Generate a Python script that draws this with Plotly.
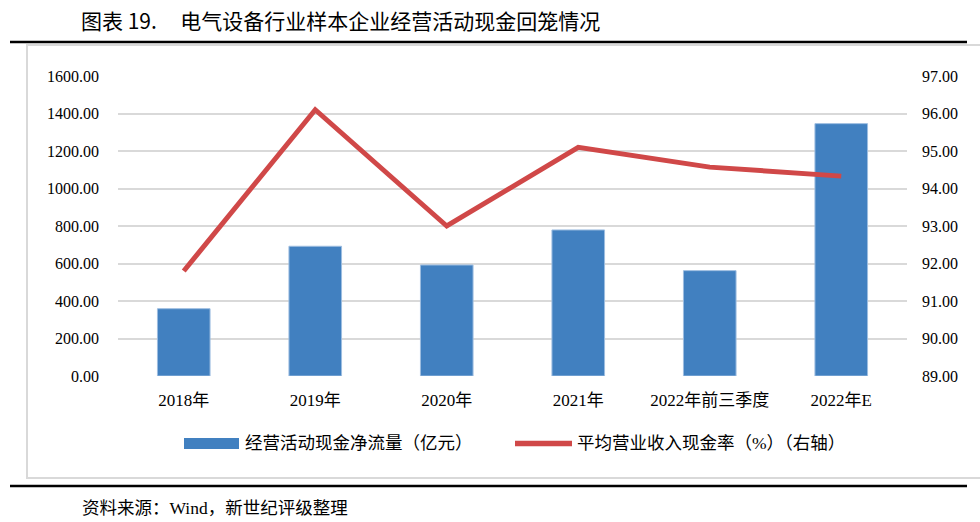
import plotly.graph_objects as go

categories = ["2018年", "2019年", "2020年", "2021年", "2022年前三季度", "2022年E"]
cash_flow = [359, 692, 592, 779, 562, 1346]
cash_ratio = [91.80, 96.10, 93.00, 95.10, 94.57, 94.33]
left_ticks = [0, 200, 400, 600, 800, 1000, 1200, 1400, 1600]
right_ticks = [89, 90, 91, 92, 93, 94, 95, 96, 97]
bar_name = "经营活动现金净流量（亿元）"
line_name = "平均营业收入现金率（%）（右轴）"

BLUE = "#4180C0"
RED = "#D04848"
GRID = "#D9D9D9"
FONT = "Liberation Serif, 'Noto Sans CJK SC', serif"

L, R, T, B = 118, 73, 76, 146
W = 980 - L - R
H = 522 - T - B


def px(x):
    return (x - L) / W


def py(y):
    return (522 - B - y) / H


fig = go.Figure()
fig.add_trace(go.Bar(
    x=categories, y=cash_flow, name=bar_name,
    marker=dict(color=BLUE, line=dict(color="#9DBDE0", width=1)),
    width=0.4, yaxis="y",
))
fig.add_trace(go.Scatter(
    x=categories, y=cash_ratio, name=line_name,
    mode="lines", line=dict(color=RED, width=5), yaxis="y2",
))

fig.update_layout(
    width=980, height=522, autosize=False,
    margin=dict(l=L, r=R, t=T, b=B),
    paper_bgcolor="white", plot_bgcolor="white",
    font=dict(family=FONT, size=16, color="#000000"),
    showlegend=False,
    xaxis=dict(
        type="category", showgrid=False, showline=False, zeroline=False,
        ticks="", tickfont=dict(size=17), ticklabelstandoff=12,
    ),
    yaxis=dict(
        range=[0, 1600], tickvals=left_ticks, tickformat=".2f",
        showgrid=True, gridcolor=GRID, gridwidth=2, zeroline=False,
        showline=False, ticks="", tickfont=dict(size=16), ticklabelstandoff=18,
    ),
    yaxis2=dict(
        range=[89, 97], tickvals=right_ticks, tickformat=".2f",
        overlaying="y", side="right", showgrid=False, zeroline=False,
        showline=False, ticks="", tickfont=dict(size=16), ticklabelstandoff=14,
    ),
    shapes=[
        dict(type="rect", xref="paper", yref="paper",
             x0=px(27), x1=px(990), y0=py(478), y1=py(45),
             line=dict(color="#D9D9D9", width=2), fillcolor="rgba(0,0,0,0)", layer="below"),
        dict(type="line", xref="paper", yref="paper",
             x0=px(10), x1=px(967), y0=py(42), y1=py(42),
             line=dict(color="black", width=2.5)),
        dict(type="line", xref="paper", yref="paper",
             x0=px(10), x1=px(967), y0=py(486), y1=py(486),
             line=dict(color="black", width=2.5)),
        # legend swatches
        dict(type="rect", xref="paper", yref="paper",
             x0=px(184), x1=px(239), y0=py(449), y1=py(438),
             line=dict(width=0), fillcolor=BLUE),
        dict(type="line", xref="paper", yref="paper",
             x0=px(515), x1=px(572), y0=py(443.5), y1=py(443.5),
             line=dict(color=RED, width=5.5)),
    ],
    annotations=[
        dict(text="图表 19.&nbsp;&nbsp;&nbsp;&nbsp;&nbsp;电气设备行业样本企业经营活动现金回笼情况",
             xref="paper", yref="paper", x=px(79), y=py(20),
             xanchor="left", yanchor="middle", showarrow=False,
             font=dict(family="'Noto Sans CJK SC', sans-serif", size=21, color="#000000")),
        dict(text=bar_name, xref="paper", yref="paper", x=px(243), y=py(443),
             xanchor="left", yanchor="middle", showarrow=False,
             font=dict(family=FONT, size=17.5, color="#000000")),
        dict(text=line_name, xref="paper", yref="paper", x=px(575), y=py(443),
             xanchor="left", yanchor="middle", showarrow=False,
             font=dict(family=FONT, size=17.5, color="#000000")),
        dict(text="资料来源：Wind，新世纪评级整理",
             xref="paper", yref="paper", x=px(80), y=py(508),
             xanchor="left", yanchor="middle", showarrow=False,
             font=dict(family=FONT, size=17.5, color="#000000")),
    ],
)

fig.write_html(
    "out.html",
    config={"displayModeBar": False},
    post_script="document.body.style.margin='0';document.body.style.overflow='hidden';",
)
